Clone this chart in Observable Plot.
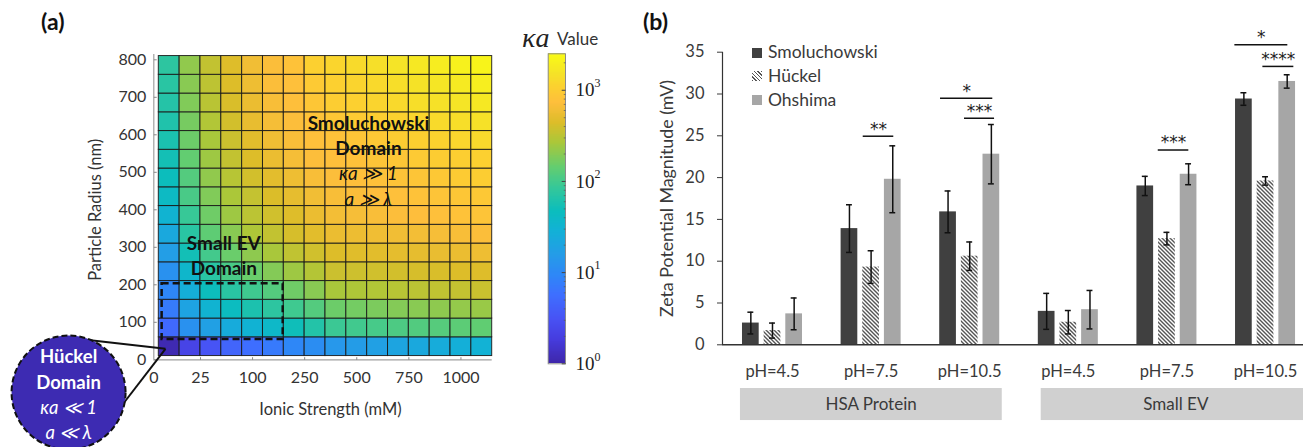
<!DOCTYPE html>
<html><head><meta charset="utf-8">
<script src="https://cdn.jsdelivr.net/npm/d3@7"></script>
<script src="https://cdn.jsdelivr.net/npm/@observablehq/plot@0.6"></script>
<style>
html,body{margin:0;padding:0;background:#fff;overflow:hidden;width:1303px;height:447px;}
#root{position:relative;width:1303px;height:447px;overflow:hidden;font-family:Lato,sans-serif;color:#333;}
#root svg{position:absolute;top:0;overflow:visible;background:transparent;}
.lbl{position:absolute;white-space:nowrap;line-height:1;}
.sw{position:absolute;width:10px;height:10px;}
</style></head><body><div id="root"></div>
<script>
// ---------------- DATA ----------------
// Panel (a): κa heat map, rows = particle radius (bottom -> top), columns = ionic strength steps
const radiusNm = [35, 85, 135, 185, 235, 285, 335, 385, 435, 485, 535, 585, 635, 685, 735, 785];
const ionicColumn = [0,1,2,3,4,5,6,7,8,9,10,11,12,13,14,15];
const log10KappaA = [
  [0.05,0.35,0.50,0.66,0.75,0.85,0.97,1.04,1.15,1.20,1.25,1.30,1.35,1.39,1.43,1.47],
  [0.70,1.08,1.25,1.38,1.48,1.58,1.70,1.82,1.96,1.99,2.02,2.05,2.07,2.09,2.12,2.14],
  [0.86,1.28,1.50,1.65,1.78,1.88,1.98,2.08,2.19,2.22,2.25,2.28,2.30,2.32,2.34,2.36],
  [0.97,1.42,1.68,1.86,1.98,2.08,2.20,2.30,2.42,2.44,2.46,2.48,2.50,2.52,2.54,2.56],
  [1.08,1.55,1.86,2.03,2.18,2.28,2.38,2.47,2.57,2.58,2.59,2.60,2.62,2.63,2.65,2.66],
  [1.22,1.72,2.00,2.18,2.32,2.42,2.52,2.59,2.65,2.67,2.68,2.70,2.71,2.73,2.74,2.76],
  [1.35,1.86,2.13,2.30,2.44,2.53,2.62,2.68,2.74,2.75,2.77,2.78,2.79,2.81,2.82,2.84],
  [1.50,1.94,2.20,2.38,2.50,2.59,2.66,2.74,2.79,2.81,2.83,2.85,2.86,2.88,2.90,2.92],
  [1.62,2.03,2.27,2.43,2.54,2.64,2.71,2.78,2.82,2.84,2.86,2.88,2.90,2.92,2.94,2.96],
  [1.68,2.08,2.33,2.48,2.60,2.69,2.76,2.82,2.85,2.87,2.89,2.91,2.93,2.96,2.98,3.00],
  [1.73,2.15,2.38,2.53,2.65,2.74,2.80,2.85,2.87,2.89,2.92,2.94,2.97,2.99,3.01,3.03],
  [1.77,2.19,2.42,2.57,2.68,2.77,2.83,2.88,2.90,2.93,2.96,2.99,3.02,3.05,3.08,3.10],
  [1.80,2.23,2.46,2.60,2.72,2.80,2.85,2.91,2.95,2.98,3.01,3.04,3.08,3.11,3.14,3.17],
  [1.83,2.27,2.49,2.63,2.74,2.82,2.87,2.94,3.00,3.03,3.06,3.10,3.14,3.17,3.20,3.23],
  [1.86,2.30,2.51,2.65,2.76,2.84,2.88,2.97,3.03,3.06,3.10,3.14,3.18,3.21,3.25,3.28],
  [1.88,2.33,2.53,2.66,2.78,2.84,2.90,3.03,3.07,3.11,3.15,3.19,3.23,3.27,3.31,3.34]
];
const ionicTickLabels = ["0", "25", "100", "250", "500", "750", "1000"];
const ionicTickColumn = [-0.24, 2, 4.5, 7, 9.5, 12, 14.5];
const radiusTicks = [0, 100, 200, 300, 400, 500, 600, 700, 800];
const colorbarDecades = [0, 1, 2, 3];
const KA_MAX = Math.pow(10, 3.4);

// Panel (b): zeta potential magnitude (mV)
const groupLabels = ["pH=4.5", "pH=7.5", "pH=10.5", "pH=4.5", "pH=7.5", "pH=10.5"];
const sampleLabels = ["HSA Protein", "Small EV"];
const sampleStart = [-0.325, 2.725];
const sampleEnd = [2.33, 5.46];
const sampleTextAt = [1, 4.09];
const seriesNames = ["Smoluchowski", "Hückel", "Ohshima"];
const smoluchowskiMean = [2.6, 13.9, 15.9, 4.0, 19.0, 29.4];
const smoluchowskiErr  = [1.3, 2.85, 2.5, 2.15, 1.15, 0.75];
const huckelMean = [1.7, 9.3, 10.6, 2.7, 12.7, 19.6];
const huckelErr  = [0.9, 1.95, 1.7, 1.4, 0.75, 0.5];
const ohshimaMean = [3.7, 19.8, 22.8, 4.2, 20.4, 31.5];
const ohshimaErr  = [1.9, 4.0, 3.55, 2.3, 1.25, 0.8];
// significance brackets
const sigLabel = ["**", "*", "***", "***", "*", "****"];
const sigX1 = [0.920, 1.704, 1.947, 3.912, 4.689, 4.973];
const sigX2 = [1.230, 2.234, 2.252, 4.222, 5.226, 5.287];
const sigY  = [24.95, 29.5, 27.1, 23.3, 35.9, 33.3];

// ---------------- STYLE ----------------
const parulaT = [0,5,9,14,18,22,27,31,36,40,45,49,53,56,59,63].map(i => i / 63);
const parulaC = ["#3e26a8","#463cde","#4852f4","#3e6fff","#2e87f7","#259be8","#12b1d6","#0bbdbd",
                 "#37c897","#64cd6f","#abc739","#dcbd29","#febe3c","#fccf30","#f5e327","#f9fb15"];
const parulaScale = d3.scaleLinear().domain(parulaT).range(parulaC).interpolate(d3.interpolateRgb).clamp(true);
const parula = t => parulaScale(t);
const colorOpt = {type: "log", domain: [1, KA_MAX], interpolate: parula};
const seriesFill = ["#404040", "url(#hatch)", "#a6a6a6"];
const seriesOffset = [-0.2196, 0, 0.2196];
const barHalf = 0.0847, capHalf = 0.03;

const root = document.getElementById("root");

// ---------------- PANEL (a) ----------------
const cells = [];
log10KappaA.forEach((row, i) => row.forEach((v, j) =>
  cells.push({col: ionicColumn[j], r: radiusNm[i], ka: Math.pow(10, v)})));

const boldTxt = {fontFamily: "Lato", fontWeight: "bold", fontSize: 19, fill: "#111"};
const plotA = Plot.plot({
  width: 500, height: 447,
  marginLeft: 153.3, marginRight: 8.3, marginTop: 59.3, marginBottom: 87.7,
  x: {domain: [-0.24, 16], axis: null, label: null},
  y: {domain: [0, 800], axis: null, label: null},
  color: colorOpt,
  style: {fontFamily: "Lato", fontSize: "16px", color: "#333", background: "transparent", overflow: "visible"},
  marks: [
    Plot.rect(cells, {x1: d => d.col, x2: d => d.col + 1, y1: d => d.r - 25, y2: d => d.r + 25,
      fill: "ka", stroke: "#1a1a1a", strokeWidth: 1, strokeOpacity: 0.9}),
    Plot.ruleY([0], {x1: -0.24, x2: 16, stroke: "#a0a0a0", strokeWidth: 1.2}),
    Plot.ruleX([-0.24], {y1: 0, y2: 814, stroke: "#a0a0a0", strokeWidth: 1.2}),
    Plot.link(radiusTicks, {x1: -0.24, x2: -0.1, y1: d => d, y2: d => d, stroke: "#888"}),
    Plot.link(ionicTickColumn.slice(1), {x1: d => d, x2: d => d, y1: 0, y2: 7, stroke: "#888"}),
    Plot.axisY({ticks: radiusTicks, tickSize: 0, tickPadding: 7.5, fontSize: 16, label: null}),
    Plot.axisX({ticks: ionicTickColumn, tickFormat: d => ionicTickLabels[ionicTickColumn.indexOf(d)],
      tickSize: 0, tickPadding: 12, fontSize: 16, label: null}),
    Plot.text(["Particle Radius (nm)"], {frameAnchor: "left", dx: -58, rotate: -90, textAnchor: "middle",
      lineAnchor: "middle", fontSize: 16.5, fill: "#333"}),
    Plot.text(["Ionic Strength (mM)"], {frameAnchor: "bottom", dx: 7.5, dy: 50, textAnchor: "middle",
      lineAnchor: "middle", fontSize: 16.5, fill: "#333"}),
    // dashed Small EV box
    Plot.rect([0], {x1: 0.16, x2: 5.97, y1: 54, y2: 202.7, fill: "none", stroke: "#111",
      strokeWidth: 2.5, strokeDasharray: "7,4"}),
    Plot.text(["Small EV"], {x: 3.12, y: 310, ...boldTxt}),
    Plot.text(["Domain"], {x: 3.12, y: 243.5, ...boldTxt}),
    Plot.text(["Smoluchowski"], {x: 10.06, y: 630, ...boldTxt}),
    Plot.text(["Domain"], {x: 10.06, y: 563.5, ...boldTxt}),
    Plot.text(["κa ≫ 1"], {x: 10.06, y: 496.8, fontFamily: "Lato", fontStyle: "italic", fontSize: 19, fill: "#111"}),
    Plot.text(["a ≫ λ"], {x: 10.06, y: 427.5, fontFamily: "Lato", fontStyle: "italic", fontSize: 19, fill: "#111"}),
    // Hückel callout
    Plot.link([{a: -3.6, b: 54.1}, {a: -1.7, b: -116.5}], {x1: "a", y1: "b", x2: 0.32, y2: 29.3,
      stroke: "#111", strokeWidth: 2}),
    Plot.dot([0], {x: -4.33, y: -87.2, r: 57, fill: "#3d2bb2", stroke: "#111", strokeWidth: 2,
      strokeDasharray: "6,3"}),
    Plot.text(["Hückel"], {x: -4.33, y: 6.1, fontFamily: "Lato", fontWeight: "bold", fontSize: 18.5, fill: "white"}),
    Plot.text(["Domain"], {x: -4.33, y: -63.2, fontFamily: "Lato", fontWeight: "bold", fontSize: 18.5, fill: "white"}),
    Plot.text(["κa ≪ 1"], {x: -4.33, y: -129.9, fontFamily: "Lato", fontStyle: "italic", fontSize: 18.5, fill: "white"}),
    Plot.text(["a ≪ λ"], {x: -4.33, y: -196.5, fontFamily: "Lato", fontStyle: "italic", fontSize: 18.5, fill: "white"})
  ]
});
plotA.style.left = "0px";
root.appendChild(plotA);

// ---------------- COLORBAR ----------------
const slices = d3.range(0, 340).map(i => ({lo: Math.pow(10, i / 100), hi: Math.min(KA_MAX, Math.pow(10, (i + 1.6) / 100))}));
const minorTicks = [];
colorbarDecades.forEach(k => d3.range(2, 10).forEach(m => { const v = m * Math.pow(10, k); if (v < KA_MAX) minorTicks.push(v); }));
const plotC = Plot.plot({
  width: 120, height: 447,
  marginLeft: 47.7, marginRight: 55, marginTop: 53.3, marginBottom: 83.7,
  x: {domain: [0, 1], axis: null, label: null},
  y: {type: "log", domain: [1, KA_MAX], axis: null, label: null},
  color: colorOpt,
  style: {background: "transparent", overflow: "visible"},
  marks: [
    Plot.rect(slices, {x1: 0, x2: 1, y1: "lo", y2: "hi", fill: d => Math.sqrt(d.lo * d.hi), shapeRendering: "crispEdges"}),
    Plot.frame({stroke: "#8c8c8c"}),
    Plot.link(minorTicks, {x1: 0.9, x2: 1, y1: d => d, y2: d => d, stroke: "#555", strokeOpacity: 0.7}),
    Plot.link(colorbarDecades.map(k => Math.pow(10, k)), {x1: 0.78, x2: 1, y1: d => d, y2: d => d, stroke: "#444"}),
    Plot.text(colorbarDecades, {x: 1, y: k => Math.pow(10, k), text: () => "10", dx: 10, textAnchor: "start",
      fontFamily: "Liberation Serif", fontSize: 19, fill: "#222"}),
    Plot.text(colorbarDecades, {x: 1, y: k => Math.pow(10, k), text: k => String(k), dx: 29, dy: -7, textAnchor: "start",
      fontFamily: "Liberation Serif", fontSize: 12, fill: "#222"})
  ]
});
plotC.style.left = "500px";
root.appendChild(plotC);

// ---------------- PANEL (b) ----------------
const means = [smoluchowskiMean, huckelMean, ohshimaMean];
const errs = [smoluchowskiErr, huckelErr, ohshimaErr];
const bars = [];
groupLabels.forEach((g, gi) => seriesNames.forEach((s, si) =>
  bars.push({gi, si, s, xc: gi + seriesOffset[si], mean: means[si][gi], err: errs[si][gi]})));
const sig = sigLabel.map((t, i) => ({t, x1: sigX1[i], x2: sigX2[i], y: sigY[i]}));
const samples = sampleLabels.map((t, i) => ({t, x1: sampleStart[i], x2: sampleEnd[i], xt: sampleTextAt[i]}));

const plotB = Plot.plot({
  width: 683, height: 447,
  marginLeft: 102, marginRight: 0, marginTop: 51.7, marginBottom: 102.7,
  x: {domain: [-0.507, 5.385], axis: null, label: null},
  y: {domain: [0, 35], axis: null, label: null},
  style: {fontFamily: "Lato", fontSize: "16px", color: "#3a3a3a", background: "transparent", overflow: "visible"},
  marks: [
    ...seriesNames.map((s, si) => Plot.rect(bars.filter(d => d.si === si),
      {x1: d => d.xc - barHalf, x2: d => d.xc + barHalf, y1: 0, y2: "mean", fill: seriesFill[si]})),
    Plot.ruleX(bars, {x: "xc", y1: d => d.mean - d.err, y2: d => d.mean + d.err, stroke: "#111", strokeWidth: 1.5}),
    Plot.ruleY(bars, {x1: d => d.xc - capHalf, x2: d => d.xc + capHalf, y: d => d.mean - d.err, stroke: "#111", strokeWidth: 1.5}),
    Plot.ruleY(bars, {x1: d => d.xc - capHalf, x2: d => d.xc + capHalf, y: d => d.mean + d.err, stroke: "#111", strokeWidth: 1.5}),
    Plot.ruleY([0], {stroke: "#333", strokeWidth: 1.4}),
    Plot.ruleX([-0.507], {y1: 0, y2: 35, stroke: "#333", strokeWidth: 1.2}),
    Plot.axisY({ticks: d3.range(0, 40, 5), tickSize: 5, tickPadding: 13, fontSize: 16.5, label: null}),
    Plot.axisX({ticks: d3.range(0, 6), tickFormat: i => groupLabels[i], tickSize: 0, tickPadding: 20, fontSize: 16.5, label: null}),
    Plot.text(["Zeta Potential Magnitude (mV)"], {frameAnchor: "left", dx: -55.3, rotate: -90, textAnchor: "middle",
      lineAnchor: "middle", fontSize: 17.8, fill: "#3a3a3a"}),
    // significance brackets
    Plot.ruleY(sig, {x1: "x1", x2: "x2", y: "y", stroke: "#111", strokeWidth: 1.5}),
    Plot.text(sig, {x: d => (d.x1 + d.x2) / 2, y: "y", text: "t", dy: -7, fontSize: 17, fill: "#222",
      fontFamily: "DejaVu Sans", letterSpacing: 1}),
    // sample group boxes
    Plot.rect(samples, {x1: "x1", x2: "x2", y1: -5.23, y2: -9.06, fill: "#d0d0d0"}),
    Plot.text(samples, {x: "xt", y: -7.15, text: "t", fontSize: 17, fill: "#3a3a3a"})
  ]
});
plotB.style.left = "620px";
d3.select(plotB).insert("defs", ":first-child").html(
  '<pattern id="hatch" patternUnits="userSpaceOnUse" width="4" height="4">' +
  '<rect width="4" height="4" fill="#ffffff"/>' +
  '<path d="M0,0L4,4M-1,3L1,5M3,-1L5,1" stroke="#555" stroke-width="1.4"/></pattern>');
root.appendChild(plotB);

// ---------------- HTML labels & legend ----------------
function addLabel(text, left, top, css) {
  const el = document.createElement("div");
  el.className = "lbl"; el.textContent = text;
  el.style.left = left + "px"; el.style.top = top + "px";
  Object.assign(el.style, css || {});
  root.appendChild(el);
  return el;
}
addLabel("(a)", 41, 10, {fontWeight: "bold", fontSize: "23px", color: "#111"});
addLabel("(b)", 643, 10, {fontWeight: "bold", fontSize: "23px", color: "#111"});
addLabel("κa", 522, 24, {fontFamily: "'Liberation Serif', serif", fontStyle: "italic", fontSize: "28px", color: "#222"});
addLabel("Value", 557, 30, {fontSize: "17px", color: "#333"});

const swatchCss = [
  {background: "#404040"},
  {background: "repeating-linear-gradient(45deg, #555 0 1px, #fff 1px 2.6px)"},
  {background: "#a6a6a6"}
];
seriesNames.forEach((s, i) => {
  const top = 52.7 + i * 23.7;
  const sw = document.createElement("div");
  sw.className = "sw"; sw.style.left = "752px"; sw.style.top = (top - 5) + "px";
  Object.assign(sw.style, swatchCss[i]);
  root.appendChild(sw);
  addLabel(s, 768, top - 9.5, {fontSize: "17.5px", color: "#3a3a3a"});
});
</script></body></html>
